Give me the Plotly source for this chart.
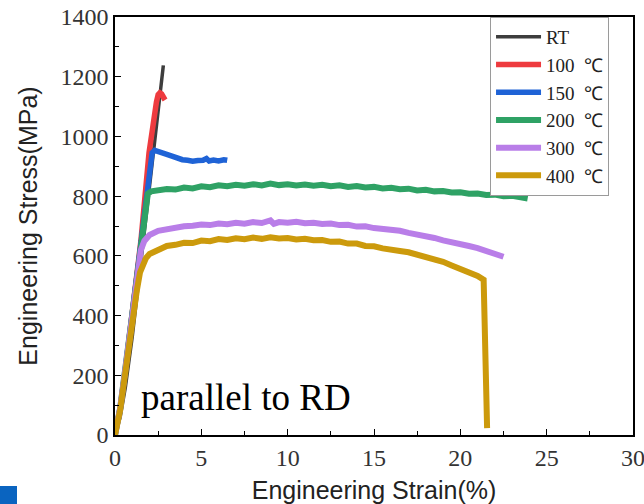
import plotly.graph_objects as go

# ---- data (engineering strain %, engineering stress MPa) ----
rt_strain = [0, 0.3, 0.6, 1.0, 1.5, 1.95, 2.3, 2.6, 2.8]
rt_stress = [0, 60, 160, 330, 580, 810, 990, 1145, 1238]

t100_strain = [0, 0.3, 0.6, 1.0, 1.5, 1.97, 2.2, 2.4, 2.5, 2.6, 2.7, 2.8, 2.9]
t100_stress = [0, 90, 220, 410, 650, 945, 1050, 1115, 1140, 1146, 1142, 1132, 1122]

t150_strain = [0, 0.3, 0.6, 1.0, 1.5, 1.8, 2.0, 2.15, 2.3, 2.5, 2.7, 3.0, 3.3, 3.6,
               3.9, 4.2, 4.5, 4.8, 5.1, 5.3, 5.45, 5.7, 6.0, 6.3, 6.5]
t150_stress = [0, 90, 220, 410, 650, 800, 890, 945, 953, 948, 946, 940, 934, 927,
               922, 920, 917, 919, 920, 926, 918, 921, 918, 922, 920]

t200_strain = [0, 0.3, 0.6, 1.0, 1.5, 1.8, 1.9, 2.1, 2.5, 3.0, 3.5, 4.0, 4.5, 5.0,
               5.5, 6.0, 6.5, 7.0, 7.5, 8.0, 8.5, 9.0, 9.5, 10.0, 10.5, 11.0, 11.5,
               12.0, 12.5, 13.0, 13.5, 14.0, 14.5, 15.0, 15.5, 16.0, 16.5, 17.0, 17.5,
               18.0, 18.5, 19.0, 19.5, 20.0, 20.5, 21.0, 21.5, 22.0, 22.5, 23.0, 23.5, 23.9]
t200_stress = [0, 90, 225, 415, 625, 780, 808, 816, 819, 824, 822, 829, 826, 833,
               830, 836, 833, 838, 835, 840, 836, 842, 837, 840, 836, 839, 835,
               838, 833, 836, 831, 834, 829, 831, 826, 828, 823, 825, 819, 821,
               816, 817, 812, 813, 808, 809, 804, 805, 800, 801, 796, 792]

t300_strain = [0, 0.3, 0.6, 1.0, 1.3, 1.5, 1.7, 2.0, 2.5, 3.0, 3.5, 4.0, 4.5, 5.0,
               5.5, 6.0, 6.5, 7.0, 7.5, 8.0, 8.5, 9.0, 9.2, 9.5, 10.0, 10.5, 11.0,
               11.5, 12.0, 12.5, 13.0, 13.5, 14.0, 14.5, 15.0, 15.5, 16.0, 16.5, 17.0,
               17.5, 18.0, 18.5, 19.0, 19.5, 20.0, 20.5, 21.0, 21.5, 22.0, 22.5]
t300_stress = [0, 90, 220, 410, 545, 620, 650, 670, 684, 690, 695, 699, 701, 705,
               703, 708, 706, 711, 708, 713, 710, 719, 707, 713, 711, 714, 709,
               711, 707, 708, 703, 704, 698, 699, 693, 691, 686, 684, 677,
               673, 665, 660, 652, 647, 639, 633, 626, 618, 608, 597]

t400_strain = [0, 0.3, 0.6, 1.0, 1.27, 1.45, 1.62, 1.8, 2.0, 2.5, 3.0, 3.5, 4.0, 4.5,
               5.0, 5.5, 6.0, 6.5, 7.0, 7.5, 8.0, 8.5, 9.0, 9.5, 10.0, 10.5, 11.0,
               11.5, 12.0, 12.5, 13.0, 13.5, 14.0, 14.5, 15.0, 15.5, 16.0, 16.5, 17.0,
               17.5, 18.0, 18.5, 19.0, 19.5, 20.0, 20.5, 21.0, 21.35, 21.55]
t400_stress = [0, 85, 210, 390, 486, 545, 576, 593, 606, 621, 633, 637, 644, 643,
               651, 649, 656, 653, 659, 656, 661, 657, 662, 658, 660, 655, 657,
               652, 653, 647, 648, 641, 641, 633, 632, 625, 623, 616, 612,
               604, 598, 587, 580, 568, 558, 546, 533, 520, 23]

series_names = ["RT", "100  ℃", "150  ℃", "200  ℃", "300  ℃", "400  ℃"]
series_x = [rt_strain, t100_strain, t150_strain, t200_strain, t300_strain, t400_strain]
series_y = [rt_stress, t100_stress, t150_stress, t200_stress, t300_stress, t400_stress]
colors = ["#3d3d3d", "#ee3b3f", "#1f63d6", "#2fa265", "#b97ee8", "#cc9a0c"]
widths = [3.5, 5.5, 5.5, 6, 6, 6]

x_ticks = [0, 5, 10, 15, 20, 25, 30]
y_ticks = [0, 200, 400, 600, 800, 1000, 1200, 1400]

fig = go.Figure()
for name, xs, ys, c, w in zip(series_names, series_x, series_y, colors, widths):
    fig.add_trace(go.Scatter(x=xs, y=ys, mode="lines", name=name,
                             line=dict(color=c, width=w)))

serif = "Liberation Serif"
sans = "Liberation Sans"

fig.update_layout(
    width=644, height=504,
    margin=dict(l=115, r=11, t=17, b=69),
    paper_bgcolor="white", plot_bgcolor="white",
    showlegend=True,
    legend=dict(x=0.724, y=1.0, xanchor="left", yanchor="top",
                bordercolor="#9a9a9a", borderwidth=1, bgcolor="white",
                font=dict(family=serif, size=19, color="#222"),
                tracegroupgap=0, itemwidth=45),
    annotations=[dict(x=1.4, y=124, xref="x", yref="y", text="parallel to RD",
                      showarrow=False, xanchor="left", yanchor="middle",
                      font=dict(family=serif, size=37, color="black"))],
    shapes=[dict(type="rect", xref="paper", yref="paper",
                 x0=-115/518, x1=(17-115)/518, y0=-69/418, y1=(435-486)/418,
                 fillcolor="#0a64c0", line=dict(width=0))],
)

fig.update_xaxes(
    range=[0, 30], tickvals=x_ticks, ticks="inside", ticklen=6, tickwidth=1.2,
    tickcolor="black", showline=True, linecolor="black", linewidth=1.5, mirror=True,
    showgrid=False, zeroline=False, automargin=False, ticklabeloverflow="allow",
    tickfont=dict(family=serif, size=24, color="#333"),
    minor=dict(dtick=2.5, ticks="inside", ticklen=4, tickcolor="black", tickwidth=1),
    title=dict(text="Engineering Strain(%)", font=dict(family=sans, size=25, color="#222"),
               standoff=14),
)
fig.update_yaxes(
    range=[0, 1400], tickvals=y_ticks, ticks="inside", ticklen=6, tickwidth=1.2,
    tickcolor="black", showline=True, linecolor="black", linewidth=1.5, mirror=True,
    showgrid=False, zeroline=False, automargin=False, ticklabeloverflow="allow",
    tickfont=dict(family=serif, size=24, color="#333"),
    minor=dict(dtick=100, ticks="inside", ticklen=4, tickcolor="black", tickwidth=1),
    title=dict(text="Engineering Stress(MPa)", font=dict(family=sans, size=25, color="#222"),
               standoff=16),
)

fig.write_html("out.html", config={"displayModeBar": False},
               post_script="document.body.style.margin='0';document.body.style.overflow='hidden';")
